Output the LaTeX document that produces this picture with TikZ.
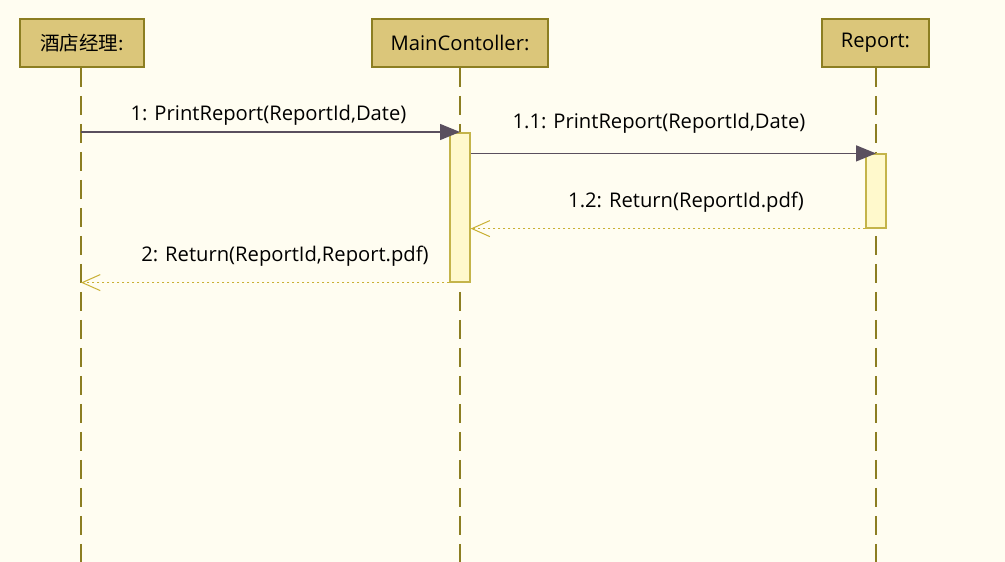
\documentclass[tikz,border=0pt]{standalone}
\usepackage{fontspec}
\setmainfont{Open Sans}
\newfontfamily\cjk{Noto Sans CJK SC}
\usetikzlibrary{arrows.meta,positioning}
\definecolor{paper}{HTML}{FFFDF1}
\definecolor{headfill}{HTML}{DBC67A}
\definecolor{headline}{HTML}{8C7E22}
\definecolor{barfill}{HTML}{FFF9CC}
\definecolor{barline}{HTML}{C4B44A}
\definecolor{callline}{HTML}{5A4F5E}
\definecolor{retline}{HTML}{C9B034}
\begin{document}
\begin{tikzpicture}[x=1pt,y=-1pt,font=\fontsize{20.2}{24}\selectfont,
	head/.style={draw=headline,fill=headfill,line width=1.5pt,minimum height=48pt,inner sep=0pt},
	life/.style={draw=headline,line width=1.3pt,dash pattern=on 19pt off 9pt},
	bar/.style={draw=barline,fill=barfill,line width=1.2pt,minimum width=20pt,inner sep=0pt},
	call/.style={draw=callline,line width=1.4pt,-{Triangle[length=20pt,width=16pt,fill=callline]}},
	ret/.style={draw=retline,line width=1.4pt,dash pattern=on 2.5pt off 2.5pt,-{Straight Barb[length=18pt,width=16pt,line width=1pt]}},
	msg/.style={inner sep=0pt,text=black}]
	\fill[paper] (0,0) rectangle (1005,562);
	\useasboundingbox (0,0) rectangle (1005,562);
	% lifeline heads
	\node[head,minimum width=124pt] (mgr) at (82,43) {\cjk\fontsize{19.5}{24}\selectfont 酒店经理:};
	\node[head,minimum width=176pt] (ctl) at (460,43) {MainContoller:};
	\node[head,minimum width=107pt] (rep) at (875.5,43) {Report:};
	% lifelines
	\coordinate (mgrEnd) at (81,562);
	\coordinate (ctlEnd) at (460,562);
	\coordinate (repEnd) at (876,562);
	\draw[life] (mgr.south -| mgrEnd) -- (mgrEnd);
	\draw[life] (ctl.south) -- (ctlEnd);
	\draw[life] (rep.south -| repEnd) -- (repEnd);
	% activations
	\node[bar,minimum height=149pt] (ctlAct) at (460,207.5) {};
	\node[bar,minimum height=74pt] (repAct) at (876,191) {};
	% messages
	\coordinate (m1) at (81,132);
	\draw[call] (m1) -- (m1 -| ctl);
	\node[msg] (m1lbl) at (268.5,115) {1: PrintReport(ReportId,Date)};
	\draw[call] (ctlAct.east |- repAct.north) -- (repAct.north);
	\node[msg] (m11lbl) at (659,123) {1.1: PrintReport(ReportId,Date)};
	\draw[ret] (repAct.south west) -- (repAct.south west -| ctlAct.east);
	\node[msg] (m12lbl) at (686,202) {1.2: Return(ReportId.pdf)};
	\draw[ret] (ctlAct.south west) -- (ctlAct.south west -| m1);
	\node[msg] (m2lbl) at (285,256) {2: Return(ReportId,Report.pdf)};
\end{tikzpicture}
\end{document}
